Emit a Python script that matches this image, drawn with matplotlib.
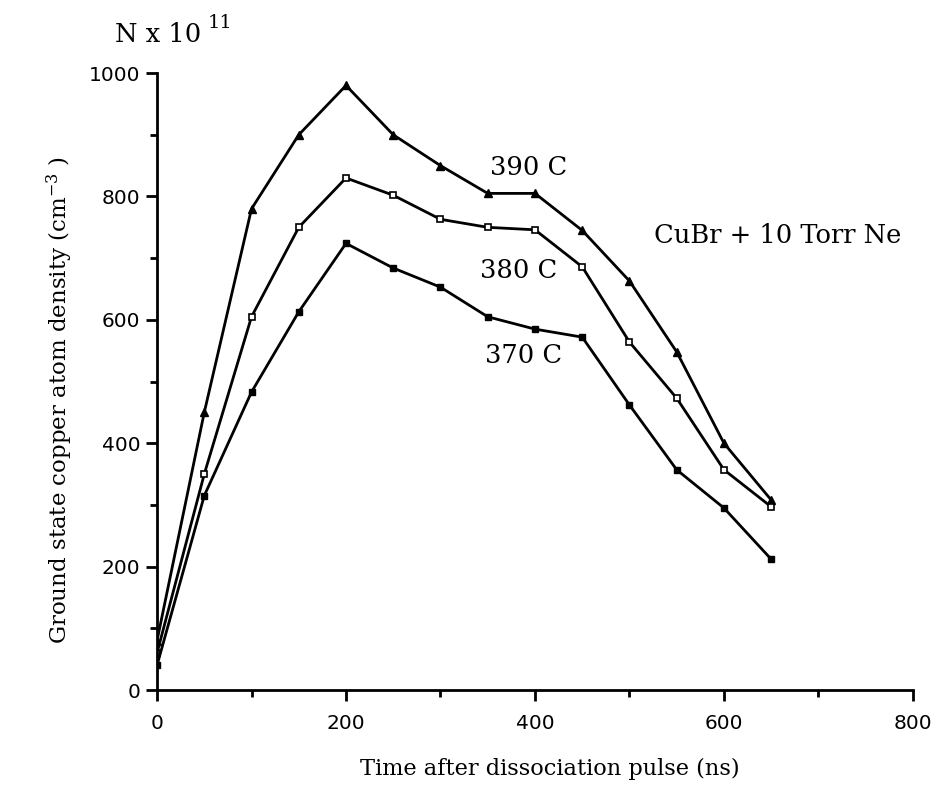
import matplotlib
matplotlib.use('Agg')
from matplotlib import pyplot as plt
from matplotlib.ticker import MultipleLocator

# time after dissociation pulse (ns)
t = [0, 50, 100, 150, 200, 250, 300, 350, 400, 450, 500, 550, 600, 650]

# ground state Cu density, units of 1e11 cm^-3
n_390 = [80, 450, 780, 900, 980, 900, 850, 805, 805, 745, 663, 548, 400, 308]
n_380 = [60, 350, 605, 750, 830, 802, 763, 750, 746, 686, 564, 473, 357, 297]
n_370 = [40, 315, 483, 613, 724, 684, 653, 605, 585, 572, 462, 357, 295, 212]

plt.rcParams['mathtext.fontset'] = 'dejavuserif'

serif = 'DejaVu Serif'
sans = 'DejaVu Sans'

fig = plt.figure(figsize=(9.38, 7.86), dpi=100)
ax = fig.add_axes([0.1674, 0.1221, 0.8059, 0.7849])

ax.plot(t, n_390, color='black', lw=2, marker='^', ms=5.5, mfc='black', mec='black')
ax.plot(t, n_380, color='black', lw=2, marker='s', ms=5, mfc='white', mec='black', mew=1.2)
ax.plot(t, n_370, color='black', lw=2, marker='s', ms=5, mfc='black', mec='black')

ax.set_xlim(0, 800)
ax.set_ylim(0, 1000)
ax.xaxis.set_major_locator(MultipleLocator(200))
ax.xaxis.set_minor_locator(MultipleLocator(100))
ax.yaxis.set_major_locator(MultipleLocator(200))
ax.yaxis.set_minor_locator(MultipleLocator(100))

for side in ['top', 'right']:
    ax.spines[side].set_visible(False)
for side in ['left', 'bottom']:
    ax.spines[side].set_linewidth(2)

ax.tick_params(which='major', direction='out', length=8, width=2, labelsize=14.5)
ax.tick_params(which='minor', direction='out', length=5, width=2)
ax.tick_params(axis='x', pad=9)
ax.tick_params(axis='y', pad=4)
for lbl in ax.get_xticklabels() + ax.get_yticklabels():
    lbl.set_fontfamily(sans)

ax.set_xlabel('Time after dissociation pulse (ns)', fontfamily=serif, fontsize=16.2, labelpad=18)
ax.xaxis.label.set_x(0.52)
ax.set_ylabel('Ground state copper atom density (cm$^{-3}$ )', fontfamily=serif,
              fontsize=16.5, labelpad=10)
ax.yaxis.label.set_y(0.47)

# axis multiplier in the top left corner
fig.text(115 / 938, 1 - 42 / 786, 'N x 10', fontfamily=serif, fontsize=18.5, va='baseline')
fig.text(208 / 938, 1 - 28 / 786, '11', fontfamily=serif, fontsize=14, va='baseline')

ax.text(393, 835, '390 C', fontfamily=serif, fontsize=18.5, ha='center', va='baseline')
ax.text(383, 668, '380 C', fontfamily=serif, fontsize=18.5, ha='center', va='baseline')
ax.text(388, 530, '370 C', fontfamily=serif, fontsize=18.5, ha='center', va='baseline')
ax.text(657, 724, 'CuBr + 10 Torr Ne', fontfamily=serif, fontsize=18.5, ha='center', va='baseline')

fig.savefig('out.png', dpi=100)
